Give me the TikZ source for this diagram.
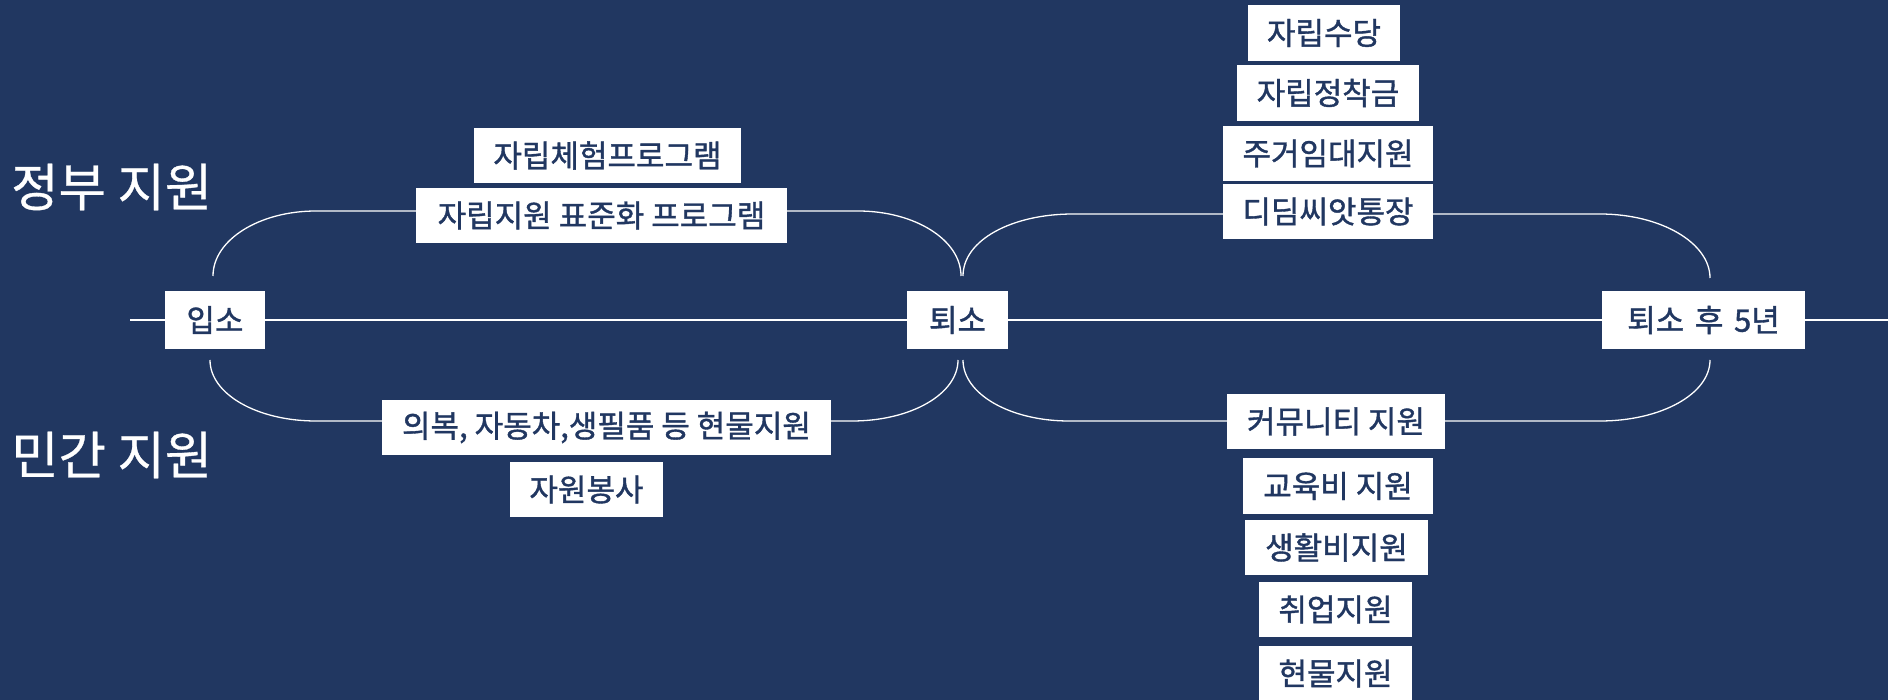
\documentclass[tikz,border=0pt]{standalone}
\usepackage{fontspec}
\setmainfont{Noto Sans CJK KR}
\newfontfamily\krbox{Noto Sans CJK KR}[FakeBold=1.2]
\newfontfamily\krside{Noto Sans CJK KR}[FakeBold=0.6]
\definecolor{bg}{RGB}{33,55,97}
\definecolor{ink}{RGB}{33,55,97}
\begin{document}
\begin{tikzpicture}[x=1pt,y=-1pt,
  box/.style={fill=white, text=ink, inner sep=0pt, font=\krbox\fontsize{31}{33}\selectfont},
  link/.style={draw=white, line width=1.3pt},
  side/.style={text=white, font=\krside\fontsize{51.5}{55}\selectfont, anchor=west, inner sep=0pt}]
\fill[bg] (0,0) rectangle (1888,700);
\useasboundingbox (0,0) rectangle (1888,700);

% side labels
\node[side] (gov) at (11,187) {정부 지원};
\node[side] (priv) at (11,455) {민간 지원};

% timeline nodes
\node[box, minimum width=100pt, minimum height=58pt] (ipso) at (215,320) {입소};
\node[box, minimum width=101pt, minimum height=58pt] (toeso) at (957.5,320) {퇴소};
\node[box, minimum width=203pt, minimum height=58pt] (after) at (1703.5,320) {퇴소\hspace{0.12em} 후\hspace{0.12em} 5년};

% government, before leaving
\node[box, minimum width=267pt, minimum height=55pt] (g1) at (607.5,155.5) {자립체험프로그램};
\node[box, minimum width=371pt, minimum height=55pt] (g2) at (601.5,215.5) {자립지원 표준화 프로그램};

% private, before leaving
\node[box, minimum width=449pt, minimum height=55pt] (p1) at (606.5,427.5) {의복, 자동차,생필품 등 현물지원};
\node[box, minimum width=153pt, minimum height=55pt] (p2) at (586.5,489.5) {자원봉사};

% government, after leaving
\node[box, minimum width=152pt, minimum height=56pt] (r1) at (1324,33) {자립수당};
\node[box, minimum width=182pt, minimum height=56pt] (r2) at (1328,93) {자립정착금};
\node[box, minimum width=210pt, minimum height=55pt] (r3) at (1328,153.5) {주거임대지원};
\node[box, minimum width=210pt, minimum height=55pt] (r4) at (1328,211.5) {디딤씨앗통장};

% private, after leaving
\node[box, minimum width=218pt, minimum height=55pt] (s1) at (1336,421.5) {커뮤니티 지원};
\node[box, minimum width=190pt, minimum height=56pt] (s2) at (1338,486) {교육비 지원};
\node[box, minimum width=183pt, minimum height=55pt] (s3) at (1336.5,547.5) {생활비지원};
\node[box, minimum width=153pt, minimum height=55pt] (s4) at (1335.5,609.5) {취업지원};
\node[box, minimum width=153pt, minimum height=55pt] (s5) at (1335.5,673.5) {현물지원};

% main timeline
\coordinate (tlS) at (130,320);
\coordinate (tlE) at (1888,320);
\draw[link] (tlS) -- (ipso.west);
\draw[link] (ipso.east) -- (toeso.west);
\draw[link] (toeso.east) -- (after.west);
\draw[link] (after.east) -- (tlE);

% upper-left bracket
\coordinate (ulA) at (213,276);
\coordinate (ulH) at (316,211);
\coordinate (ulK) at (858,211);
\coordinate (ulB) at (961,276);
\draw[link] (ulA) .. controls (213,240) and (259,211) .. (ulH) -- (g2.west |- ulH);
\draw[link] (g2.east |- ulK) -- (ulK) .. controls (915,211) and (961,240) .. (ulB);

% upper-right bracket
\coordinate (urA) at (963,276);
\coordinate (urH) at (1073,214);
\coordinate (urK) at (1600,214);
\coordinate (urB) at (1710,278);
\draw[link] (urA) .. controls (963,240) and (1012,214) .. (urH) -- (r4.west |- urH);
\draw[link] (r4.east |- urK) -- (urK) .. controls (1661,214) and (1710,243) .. (urB);

% lower-left bracket
\coordinate (llA) at (210,360);
\coordinate (llH) at (316,421);
\coordinate (llK) at (852,421);
\coordinate (llB) at (958,360);
\draw[link] (llA) .. controls (210,394) and (257,421) .. (llH) -- (p1.west |- llH);
\draw[link] (p1.east |- llK) -- (llK) .. controls (911,421) and (958,394) .. (llB);

% lower-right bracket
\coordinate (lrA) at (963,360);
\coordinate (lrH) at (1069,421);
\coordinate (lrK) at (1600,421);
\coordinate (lrB) at (1710,360);
\draw[link] (lrA) .. controls (963,394) and (1010,421) .. (lrH) -- (s1.west |- lrH);
\draw[link] (s1.east |- lrK) -- (lrK) .. controls (1661,421) and (1710,394) .. (lrB);
\end{tikzpicture}
\end{document}
